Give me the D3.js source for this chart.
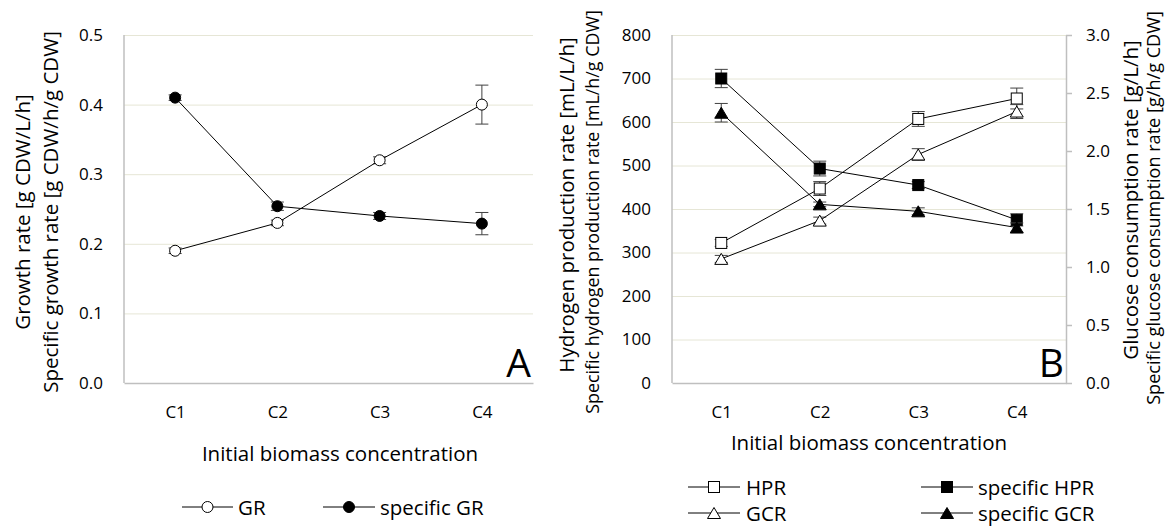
<!DOCTYPE html>
<html>
<head>
<meta charset="utf-8">
<script src="https://cdn.jsdelivr.net/npm/d3@7"></script>
<style>
  html, body { margin: 0; padding: 0; background: #ffffff; }
  svg { display: block; font-family: "Open Sans", sans-serif; }
</style>
</head>
<body>
<svg id="chart" width="1168" height="526"></svg>
<script>
// ---- data ----
const categories = ["C1", "C2", "C3", "C4"];

// Panel A: growth
const growthRate = [0.19, 0.23, 0.32, 0.40];
const growthRateErr = [0.004, 0.004, 0.005, 0.028];
const specificGrowthRate = [0.41, 0.254, 0.240, 0.229];
const specificGrowthRateErr = [0.004, 0.006, 0.005, 0.016];
const growthTicks = [0, 0.1, 0.2, 0.3, 0.4, 0.5];

// Panel B: hydrogen production (left axis, mL/L/h) and glucose consumption (right axis, g/L/h)
const hpr = [322, 447, 607, 654];
const hprErr = [8, 16, 17, 24];
const specificHpr = [700, 493, 455, 375];
const specificHprErr = [21, 17, 8, 14];
const gcr = [1.07, 1.40, 1.97, 2.34];
const gcrErr = [0.03, 0.03, 0.05, 0.06];
const specificGcr = [2.33, 1.54, 1.48, 1.34];
const specificGcrErr = [0.08, 0.02, 0.03, 0.04];
const hydrogenTicks = [0, 100, 200, 300, 400, 500, 600, 700, 800];
const glucoseTicks = [0, 0.5, 1.0, 1.5, 2.0, 2.5, 3.0];

// ---- style ----
const AXIS = "#bfbfbf";
const GRID = "#e6e6d6";
const ERR = "#404040";
const TICK_FONT = 17;
const TITLE_FONT = 20.5;

const svg = d3.select("#chart");

// marker shapes
function drawMarker(g, shape, filled) {
  const fill = filled ? "#000" : "#fff";
  if (shape === "circle") {
    g.append("circle").attr("r", 5.5).attr("fill", fill).attr("stroke", "#000").attr("stroke-width", 1);
  } else if (shape === "square") {
    g.append("rect").attr("x", -5.5).attr("y", -5.5).attr("width", 11).attr("height", 11)
      .attr("fill", fill).attr("stroke", "#000").attr("stroke-width", 1);
  } else {
    g.append("path").attr("d", "M0,-5.5 L6.5,5.5 L-6.5,5.5 Z")
      .attr("fill", fill).attr("stroke", "#000").attr("stroke-width", 1);
  }
}

function drawSeries(layer, x, y, values, errs, shape, filled) {
  const pts = values.map((v, i) => ({ c: categories[i], v, e: errs[i] }));
  const eb = layer.append("g");
  pts.forEach(p => {
    const cx = x(p.c), y1 = y(p.v + p.e), y0 = y(p.v - p.e);
    eb.append("line").attr("x1", cx).attr("x2", cx).attr("y1", y1).attr("y2", y0)
      .attr("stroke", ERR).attr("stroke-width", 1);
    [y1, y0].forEach(yy => eb.append("line").attr("x1", cx - 6.5).attr("x2", cx + 6.5)
      .attr("y1", yy).attr("y2", yy).attr("stroke", ERR).attr("stroke-width", 1));
  });
  layer.append("path").datum(pts)
    .attr("d", d3.line().x(p => x(p.c)).y(p => y(p.v)))
    .attr("fill", "none").attr("stroke", "#000").attr("stroke-width", 1);
  pts.forEach(p => {
    const g = layer.append("g").attr("transform", `translate(${x(p.c)},${y(p.v)})`);
    drawMarker(g, shape, filled);
  });
}

function gridAndLeftAxis(left, right, y, ticks, fmt) {
  const g = svg.append("g").attr("transform", `translate(${left},0)`);
  // gridlines
  g.append("g").call(d3.axisLeft(y).tickValues(ticks.slice(1)).tickSize(-(right - left)).tickFormat(""))
    .call(s => s.select(".domain").remove())
    .call(s => s.selectAll("line").attr("stroke", GRID).attr("stroke-width", 1));
  // labels
  g.append("g").call(d3.axisLeft(y).tickValues(ticks).tickSize(0).tickPadding(21).tickFormat(fmt))
    .call(s => s.select(".domain").remove())
    .call(s => s.selectAll("text").attr("font-size", TICK_FONT).attr("fill", "#000")
      .attr("font-family", "Open Sans"));
  // axis line
  svg.append("line").attr("x1", left).attr("x2", left).attr("y1", y.range()[1]).attr("y2", y.range()[0])
    .attr("stroke", AXIS).attr("stroke-width", 1.5);
}

function bottomAxis(x, bottom) {
  svg.append("g").attr("transform", `translate(0,${bottom})`)
    .call(d3.axisBottom(x).tickSize(0))
    .call(s => s.select(".domain").attr("stroke", AXIS).attr("stroke-width", 1.5))
    .call(s => s.selectAll("text").attr("font-size", TICK_FONT).attr("fill", "#000")
      .attr("font-family", "Open Sans").attr("y", 28.5).attr("dy", null)
      .attr("dominant-baseline", "central"));
}

// rotated axis title; long titles get a smaller font so they fit the available height
function vTitle(cx, cy, text, maxLen) {
  const t = svg.append("text").attr("transform", `translate(${cx},${cy}) rotate(-90)`)
    .attr("text-anchor", "middle").attr("dominant-baseline", "central")
    .attr("font-size", TITLE_FONT).text(text);
  const len = t.node().getComputedTextLength();
  if (maxLen && len > maxLen) {
    t.attr("font-size", TITLE_FONT * maxLen / len);
  }
}

function hText(cx, cy, text, anchor) {
  return svg.append("text").attr("x", cx).attr("y", cy)
    .attr("text-anchor", anchor || "middle").attr("dominant-baseline", "central")
    .attr("font-size", TITLE_FONT).text(text);
}

function legendItem(x0, x1, xm, xt, yy, label, shape, filled) {
  svg.append("line").attr("x1", x0).attr("x2", x1).attr("y1", yy).attr("y2", yy)
    .attr("stroke", "#000").attr("stroke-width", 1);
  const g = svg.append("g").attr("transform", `translate(${xm},${yy})`);
  drawMarker(g, shape, filled);
  hText(xt, yy, label, "start");
}

// ================= Panel A =================
const A = { left: 124, right: 533, top: 35, bottom: 383 };
const xA = d3.scalePoint().domain(categories).range([A.left, A.right]).padding(0.5);
const yA = d3.scaleLinear().domain([0, 0.5]).range([A.bottom, A.top]);

gridAndLeftAxis(A.left, A.right, yA, growthTicks, d3.format(".1f"));
bottomAxis(xA, A.bottom);

const layerA = svg.append("g");
drawSeries(layerA, xA, yA, growthRate, growthRateErr, "circle", false);
drawSeries(layerA, xA, yA, specificGrowthRate, specificGrowthRateErr, "circle", true);

vTitle(22, 212, "Growth rate [g CDW/L/h]");
vTitle(50, 212, "Specific growth rate [g CDW/h/g CDW]");
hText(340, 453, "Initial biomass concentration");
svg.append("text").attr("x", 531).attr("y", 377).attr("text-anchor", "end")
  .attr("font-size", 39).text("A");

legendItem(182, 233, 207.5, 238, 507, "GR", "circle", false);
legendItem(323, 375, 349, 380, 507, "specific GR", "circle", true);

// ================= Panel B =================
const B = { left: 672, right: 1066, top: 35, bottom: 383 };
const xB = d3.scalePoint().domain(categories).range([B.left, B.right]).padding(0.5);
const yB = d3.scaleLinear().domain([0, 800]).range([B.bottom, B.top]);
const yR = d3.scaleLinear().domain([0, 3]).range([B.bottom, B.top]);

gridAndLeftAxis(B.left, B.right, yB, hydrogenTicks, d3.format("d"));
bottomAxis(xB, B.bottom);

// right axis (glucose)
svg.append("g").attr("transform", `translate(${B.right},0)`)
  .call(d3.axisRight(yR).tickValues(glucoseTicks).tickSizeInner(6).tickSizeOuter(0)
    .tickPadding(14).tickFormat(d3.format(".1f")))
  .call(s => s.select(".domain").attr("stroke", AXIS).attr("stroke-width", 1.5))
  .call(s => s.selectAll(".tick line").attr("stroke", AXIS).attr("stroke-width", 1.5))
  .call(s => s.selectAll("text").attr("font-size", TICK_FONT).attr("fill", "#000")
    .attr("font-family", "Open Sans"));

const layerB = svg.append("g");
drawSeries(layerB, xB, yB, hpr, hprErr, "square", false);
drawSeries(layerB, xB, yB, specificHpr, specificHprErr, "square", true);
drawSeries(layerB, xB, yR, gcr, gcrErr, "triangle", false);
drawSeries(layerB, xB, yR, specificGcr, specificGcrErr, "triangle", true);

vTitle(566, 205, "Hydrogen production rate [mL/L/h]", 400);
vTitle(592, 212, "Specific hydrogen production rate [mL/h/g CDW]", 404);
vTitle(1130, 200, "Glucose consumption rate [g/L/h]", 390);
vTitle(1153, 208, "Specific glucose consumption rate [g/h/g CDW]", 394);
hText((B.left + B.right) / 2, 442, "Initial biomass concentration");
svg.append("text").attr("x", 1064).attr("y", 377).attr("text-anchor", "end")
  .attr("font-size", 39).text("B");

legendItem(688, 740, 714, 746, 487, "HPR", "square", false);
legendItem(921, 973, 947, 978, 487, "specific HPR", "square", true);
legendItem(688, 740, 714, 746, 513, "GCR", "triangle", false);
legendItem(921, 973, 947, 978, 513, "specific GCR", "triangle", true);
</script>
</body>
</html>
